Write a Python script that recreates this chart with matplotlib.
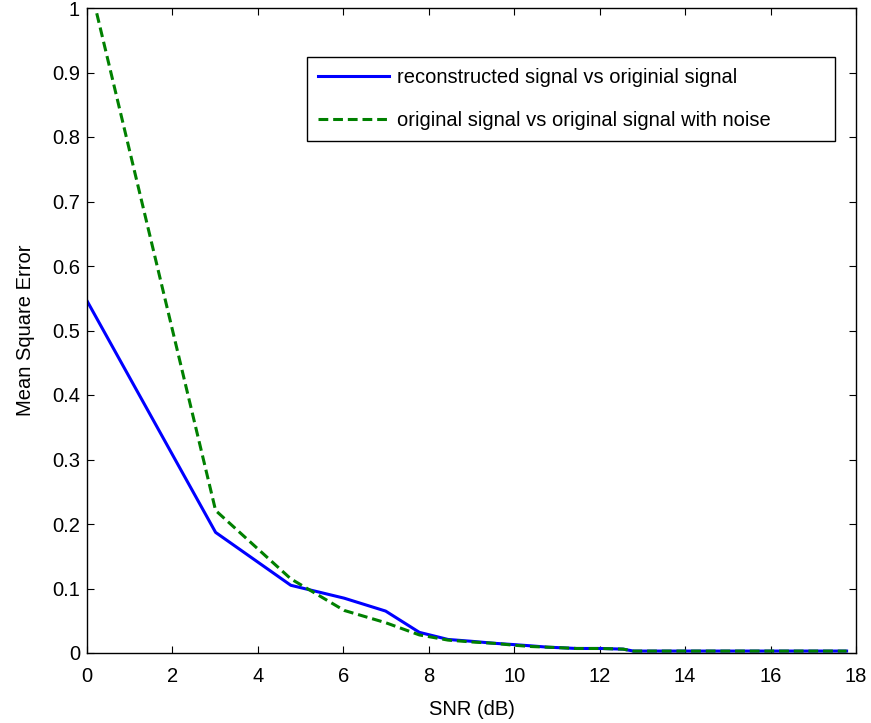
import matplotlib
matplotlib.use("Agg")
import matplotlib.pyplot as plt

# SNR points (dB) where the polylines bend
snr = [0.0, 3.01, 4.77, 6.02, 6.99, 7.78, 8.45, 9.03, 9.54, 10.0,
       10.41, 10.79, 11.14, 11.46, 12.04, 12.55, 12.79, 17.78]
mse_reconstructed = [0.546, 0.187, 0.105, 0.085, 0.065, 0.032, 0.021, 0.018, 0.015, 0.013,
                     0.011, 0.009, 0.008, 0.007, 0.007, 0.006, 0.003, 0.003]
mse_noisy = [1.055, 0.221, 0.115, 0.066, 0.047, 0.028, 0.020, 0.017, 0.015, 0.012,
             0.010, 0.009, 0.008, 0.007, 0.007, 0.006, 0.003, 0.003]

xticks = [0, 2, 4, 6, 8, 10, 12, 14, 16, 18]
yticks = [0, 0.1, 0.2, 0.3, 0.4, 0.5, 0.6, 0.7, 0.8, 0.9, 1]
ytick_labels = ["0", "0.1", "0.2", "0.3", "0.4", "0.5", "0.6", "0.7", "0.8", "0.9", "1"]

plt.rcParams["font.family"] = ["Liberation Sans", "DejaVu Sans"]
plt.rcParams["font.size"] = 14.5

fig = plt.figure(figsize=(8.71, 7.23), dpi=100)
ax = fig.add_axes([87 / 871, 70 / 723, 769 / 871, 645 / 723])

ax.plot(snr, mse_reconstructed, color=(0, 0, 1), lw=2.2,
        label="reconstructed signal vs originial signal")
ax.plot(snr, mse_noisy, color=(0, 0.5, 0), lw=2.2, ls=(0, (3.2, 1.6)),
        label="original signal vs original signal with noise")

ax.set_xlim(0, 18)
ax.set_ylim(0, 1)
ax.set_xticks(xticks)
ax.set_xticklabels([str(t) for t in xticks])
ax.set_yticks(yticks)
ax.set_yticklabels(ytick_labels)
ax.tick_params(direction="in", length=5, width=0.8, top=True, right=True)
ax.tick_params(axis="x", pad=10)
ax.tick_params(axis="y", pad=5)
for s in ax.spines.values():
    s.set_linewidth(1.0)

ax.set_xlabel("SNR (dB)", labelpad=10)
ax.set_ylabel("Mean Square Error", labelpad=12)

leg = ax.legend(loc="upper left", bbox_to_anchor=(307 / 871, 583 / 723, 528 / 871, 83 / 723),
                bbox_transform=fig.transFigure, mode="expand", borderaxespad=0,
                fancybox=False, framealpha=1, edgecolor="black",
                handlelength=3.5, handletextpad=0.4,
                borderpad=0.55, labelspacing=1.2)
leg.get_frame().set_linewidth(1.0)

fig.savefig("out.png", dpi=100)
